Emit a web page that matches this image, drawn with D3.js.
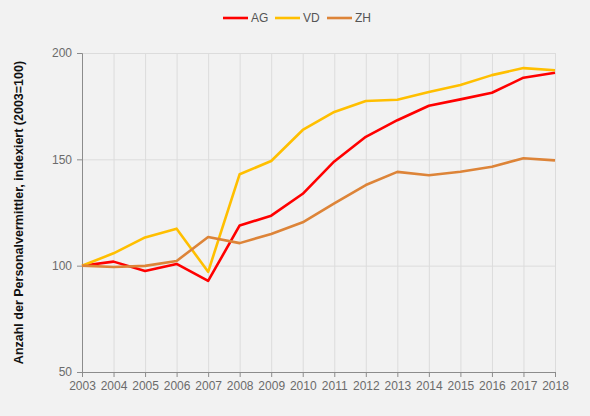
<!DOCTYPE html>
<html>
<head>
<meta charset="utf-8">
<script src="https://cdn.jsdelivr.net/npm/d3@7"></script>
<style>
  html, body { margin: 0; padding: 0; background: #f2f2f2; }
  svg { display: block; font-family: "Liberation Sans", Arial, sans-serif; }
  .axis path, .axis line { stroke: #8c8c8c; }
  .axis text { fill: #6b6b6b; font-size: 12px; }
  .grid line { stroke: #dcdcdc; }
  .grid path { display: none; }
</style>
</head>
<body>
<div id="chart"></div>
<script>
const years = [2003, 2004, 2005, 2006, 2007, 2008, 2009, 2010, 2011, 2012, 2013, 2014, 2015, 2016, 2017, 2018];
const seriesNames = ["AG", "VD", "ZH"];
const agValues = [100, 101.9, 97.5, 100.8, 92.8, 118.9, 123.5, 133.8, 149.0, 160.6, 168.4, 175.2, 178.2, 181.3, 188.4, 190.7];
const vdValues = [100, 105.8, 113.3, 117.4, 97.1, 143.0, 149.2, 163.8, 172.3, 177.4, 178.0, 181.7, 185.0, 189.6, 192.9, 191.9];
const zhValues = [100, 99.4, 99.9, 102.2, 113.5, 110.6, 114.9, 120.4, 129.3, 137.9, 144.1, 142.5, 144.2, 146.5, 150.5, 149.5];
const yTicks = [50, 100, 150, 200];
const colors = { AG: "#ff0000", VD: "#ffbf00", ZH: "#dd8438" };

const series = [
  { name: "AG", values: agValues },
  { name: "VD", values: vdValues },
  { name: "ZH", values: zhValues }
];

const fullWidth = 590, fullHeight = 416;
const margin = { top: 53, right: 35, bottom: 44, left: 82 };
const width = fullWidth - margin.left - margin.right;
const height = fullHeight - margin.top - margin.bottom;

const root = d3.select("#chart").append("svg")
  .attr("width", fullWidth)
  .attr("height", fullHeight);

const svg = root.append("g")
  .attr("transform", `translate(${margin.left},${margin.top})`);

const x = d3.scaleLinear()
  .domain([years[0], years[years.length - 1]])
  .range([0, width]);

const y = d3.scaleLinear()
  .domain([50, 200])
  .range([height, 0]);

svg.append("g")
  .attr("class", "grid")
  .attr("transform", `translate(0,${height})`)
  .call(d3.axisBottom(x).tickValues(years).tickSize(-height).tickFormat(""));

svg.append("g")
  .attr("class", "grid")
  .call(d3.axisLeft(y).tickValues(yTicks.slice(1)).tickSize(-width).tickFormat(""));

svg.append("g")
  .attr("class", "axis")
  .attr("transform", `translate(0,${height})`)
  .call(d3.axisBottom(x).tickValues(years).tickSize(5).tickPadding(4).tickFormat(d3.format("d")));

svg.append("g")
  .attr("class", "axis")
  .call(d3.axisLeft(y).tickValues(yTicks).tickSize(5).tickPadding(5));

svg.append("text")
  .attr("x", -height / 2)
  .attr("y", -margin.left + 23)
  .attr("transform", "rotate(-90)")
  .attr("text-anchor", "middle")
  .attr("fill", "#111")
  .attr("font-size", "12.5px")
  .attr("font-weight", "bold")
  .text("Anzahl der Personalvermittler, indexiert (2003=100)");

const line = d3.line()
  .x((d, i) => x(years[i]))
  .y(d => y(d));

svg.append("g")
  .selectAll("path")
  .data(series)
  .enter()
  .append("path")
  .attr("fill", "none")
  .attr("stroke", d => colors[d.name])
  .attr("stroke-width", 2.6)
  .attr("stroke-linejoin", "round")
  .attr("d", d => line(d.values));

// legend
const legend = root.append("g").attr("transform", "translate(223,18)");
const legendItems = legend.selectAll("g")
  .data(seriesNames)
  .enter()
  .append("g")
  .attr("transform", (d, i) => `translate(${i * 52},0)`);

legendItems.append("line")
  .attr("x1", 0).attr("x2", 25)
  .attr("stroke", d => colors[d])
  .attr("stroke-width", 2.6);

legendItems.append("text")
  .attr("x", 28)
  .attr("dy", "0.35em")
  .attr("fill", "#555")
  .attr("font-size", "12px")
  .text(d => d);
</script>
</body>
</html>
